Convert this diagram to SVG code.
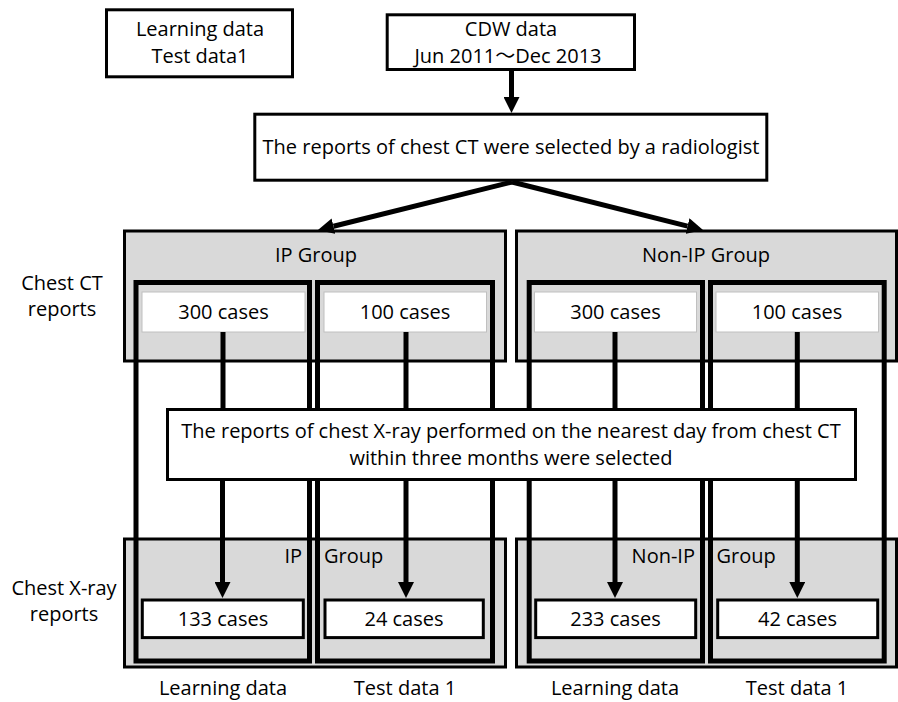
<svg xmlns="http://www.w3.org/2000/svg" width="898" height="702" viewBox="0 0 898 702">
<defs>
<style>
text{font-family:"Open Sans","Noto Sans","Noto Sans CJK JP",sans-serif;font-size:20px;fill:#000;text-anchor:middle}
.box{fill:#fff;stroke:#000;stroke-width:3}
.grp{fill:#d9d9d9;stroke:#000;stroke-width:3}
.frame{fill:none;stroke:#000;stroke-width:5}
.wb{fill:#fff;stroke:#c0c0c0;stroke-width:1}
.ln{stroke:#000;stroke-width:5;fill:none}
.st{text-anchor:start}
.en{text-anchor:end}
</style>
<marker id="ah" markerUnits="userSpaceOnUse" viewBox="0 0 16 16" refX="0" refY="8" markerWidth="16" markerHeight="16" orient="auto">
<path d="M0,0 L16,8 L0,16 Z" fill="#000"/>
</marker>
</defs>

<g id="legend">
<rect class="box" x="106.5" y="9.8" width="186" height="67"/>
<text x="200" y="36">Learning data</text>
<text x="200" y="63">Test data1</text>
</g>

<g id="cdw">
<rect class="box" x="387.2" y="14.8" width="247.3" height="54.7"/>
<text x="511" y="36">CDW data</text>
<text x="508" y="63">Jun 2011～Dec 2013</text>
</g>

<g id="ct-selection">
<rect class="box" x="254.8" y="114.2" width="512" height="66"/>
<text x="511" y="154">The reports of chest CT were selected by a radiologist</text>
</g>

<g id="row-labels">
<text x="62" y="290">Chest CT</text>
<text x="62" y="316">reports</text>
<text x="64" y="595">Chest X-ray</text>
<text x="64" y="621">reports</text>
<text x="223" y="695">Learning data</text>
<text x="405" y="695">Test data 1</text>
<text x="615" y="695">Learning data</text>
<text x="797" y="695">Test data 1</text>
</g>

<g id="ip-ct">
<rect class="grp" x="124.5" y="231" width="381" height="130"/>
<text x="316" y="262">IP Group</text>
</g>
<g id="nonip-ct">
<rect class="grp" x="516.5" y="231" width="380" height="130"/>
<text x="706" y="262">Non-IP Group</text>
</g>
<g id="ip-xray">
<rect class="grp" x="124.5" y="539" width="381" height="128"/>
<text class="en" x="302" y="563">IP</text>
<text class="st" x="324" y="563">Group</text>
</g>
<g id="nonip-xray">
<rect class="grp" x="516.5" y="539" width="380" height="128"/>
<text class="en" x="695" y="563">Non-IP</text>
<text class="st" x="716.5" y="563">Group</text>
</g>

<g id="frames">
<rect class="frame" x="136" y="282.5" width="173.5" height="378.5"/>
<rect class="frame" x="317.5" y="282.5" width="175" height="378.5"/>
<rect class="frame" x="529.2" y="282.5" width="173.3" height="378.5"/>
<rect class="frame" x="710.5" y="282.5" width="173.7" height="378.5"/>
</g>

<g id="ip-learn-ct">
<rect class="wb" x="142" y="292" width="163" height="40"/>
<text x="223.5" y="319">300 cases</text>
</g>
<g id="ip-test-ct">
<rect class="wb" x="324" y="292" width="162.5" height="40"/>
<text x="405" y="319">100 cases</text>
</g>
<g id="nonip-learn-ct">
<rect class="wb" x="534.5" y="292" width="162" height="40"/>
<text x="615.5" y="319">300 cases</text>
</g>
<g id="nonip-test-ct">
<rect class="wb" x="716" y="292" width="162.5" height="40"/>
<text x="797" y="319">100 cases</text>
</g>

<g id="connectors">
<line class="ln" x1="511.5" y1="69" x2="511.5" y2="97" marker-end="url(#ah)"/>
<line class="ln" x1="512" y1="182" x2="333.5" y2="226.2" marker-end="url(#ah)"/>
<line class="ln" x1="512" y1="182" x2="687.5" y2="226.1" marker-end="url(#ah)"/>
<line class="ln" x1="223" y1="332" x2="223" y2="410"/>
<line class="ln" x1="406" y1="332" x2="406" y2="410"/>
<line class="ln" x1="615" y1="332" x2="615" y2="410"/>
<line class="ln" x1="797.3" y1="332" x2="797.3" y2="410"/>
<line class="ln" x1="222.5" y1="480" x2="222.5" y2="582" marker-end="url(#ah)"/>
<line class="ln" x1="406" y1="480" x2="406" y2="582" marker-end="url(#ah)"/>
<line class="ln" x1="615" y1="480" x2="615" y2="582" marker-end="url(#ah)"/>
<line class="ln" x1="797.3" y1="480" x2="797.3" y2="582" marker-end="url(#ah)"/>
</g>

<g id="xray-selection">
<rect class="box" x="167.5" y="409.5" width="688" height="70"/>
<text x="511" y="438">The reports of chest X-ray performed on the nearest day from chest CT</text>
<text x="511" y="465">within three months were selected</text>
</g>

<g id="ip-learn-xray">
<rect class="box" x="142.3" y="600" width="161" height="37.6"/>
<text x="223" y="626">133 cases</text>
</g>
<g id="ip-test-xray">
<rect class="box" x="325" y="600" width="158.3" height="37.6"/>
<text x="404" y="626">24 cases</text>
</g>
<g id="nonip-learn-xray">
<rect class="box" x="535.7" y="600" width="160" height="37.6"/>
<text x="615.5" y="626">233 cases</text>
</g>
<g id="nonip-test-xray">
<rect class="box" x="717.7" y="600" width="160" height="37.6"/>
<text x="797.5" y="626">42 cases</text>
</g>
</svg>
